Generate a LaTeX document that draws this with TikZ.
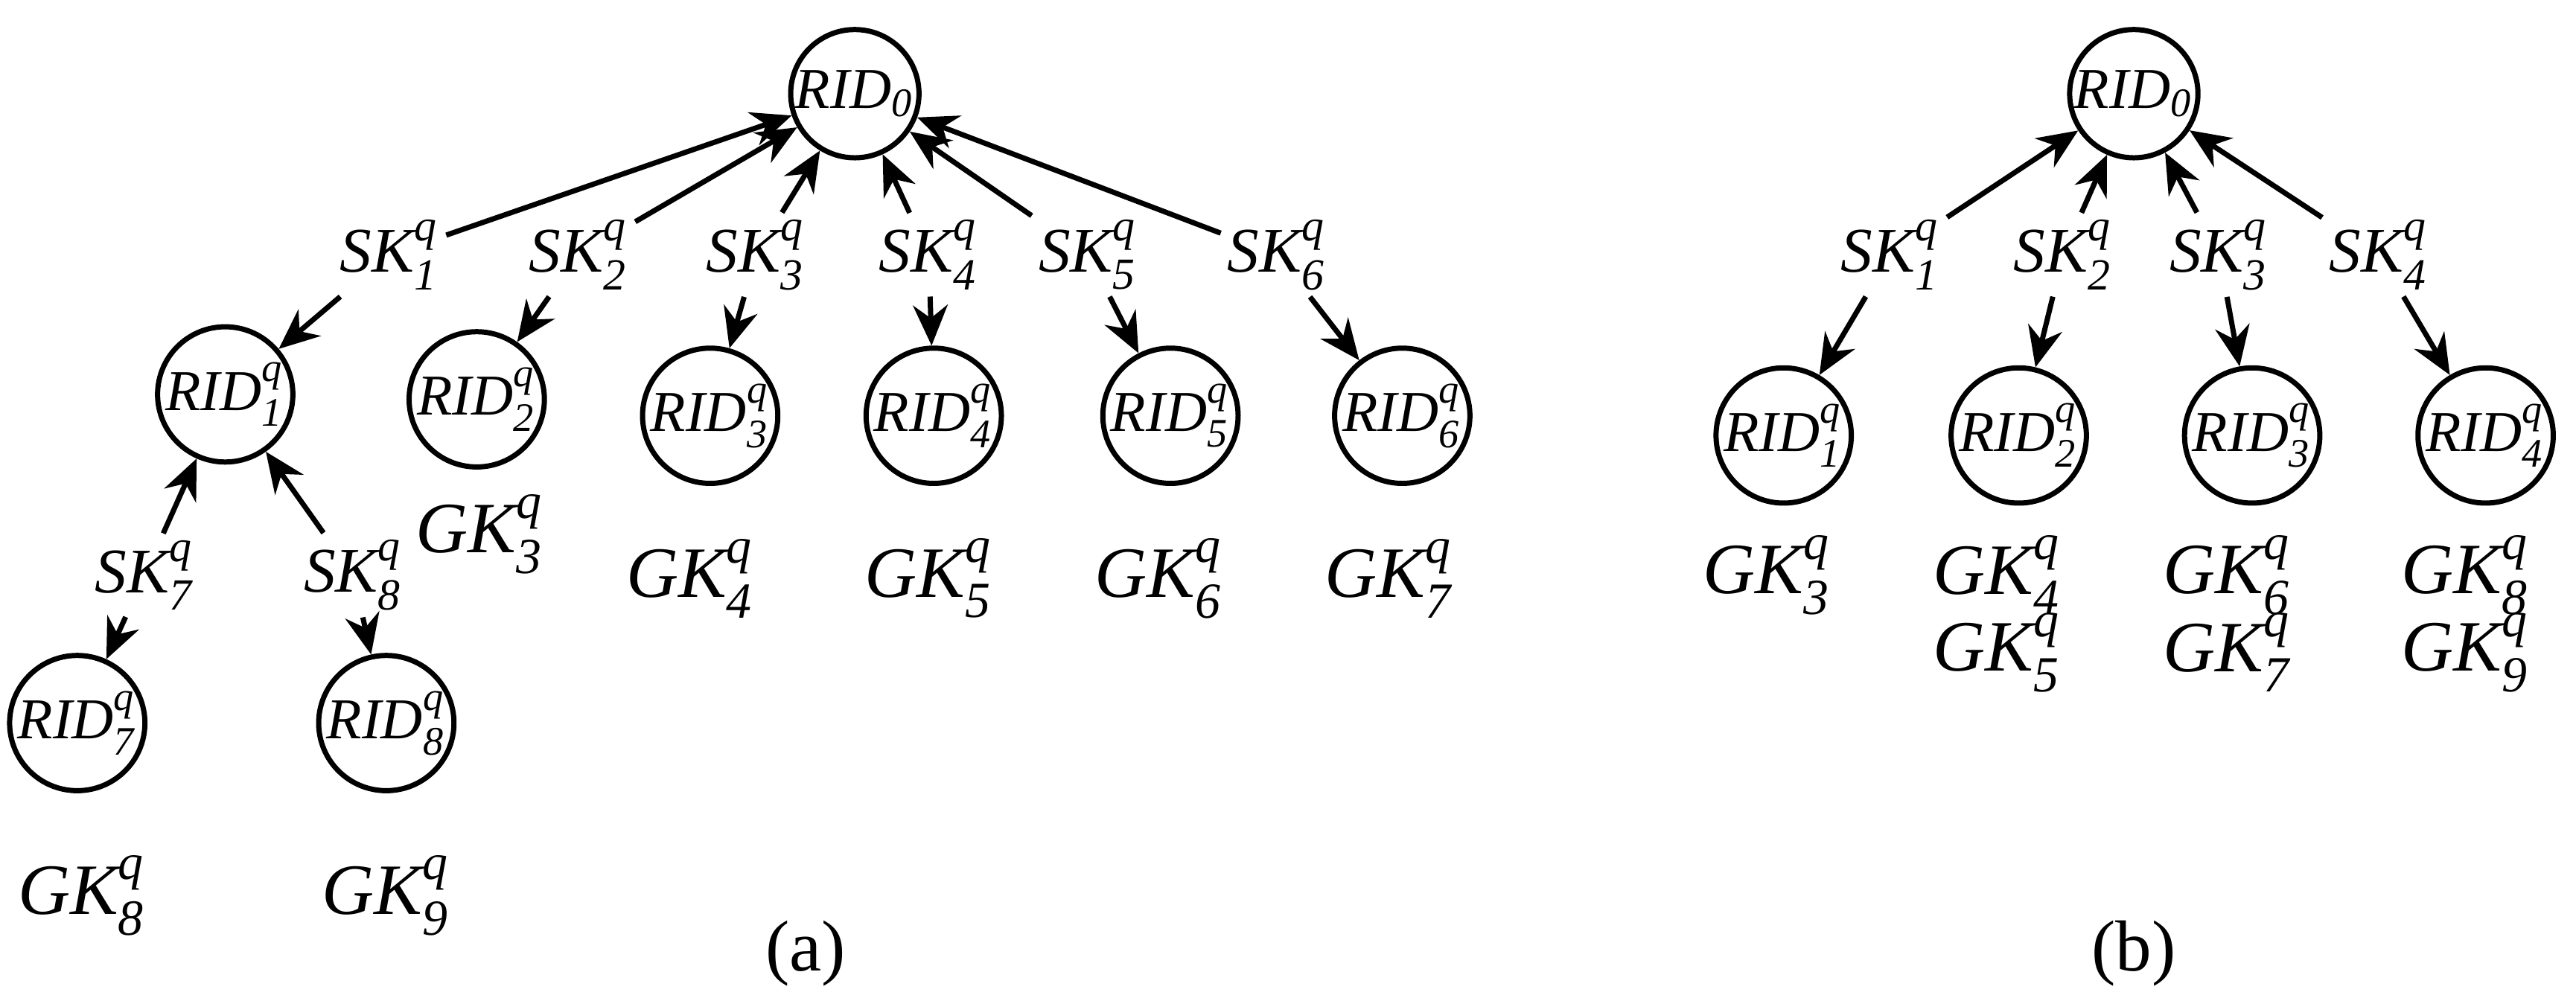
\documentclass[tikz,border=0pt]{standalone}
\usepackage{amsmath}
\usepackage{fontspec}
\setmainfont{Liberation Serif}
\usetikzlibrary{arrows.meta}
\begin{document}
\begin{tikzpicture}[x=0.01cm,y=-0.01cm,
  rid/.style={circle,draw,line width=0.9pt,minimum size=0.78cm,inner sep=0pt,font=\fontsize{10}{12}\selectfont},
  sk/.style={inner sep=1pt,font=\fontsize{11}{12}\selectfont},
  gk/.style={inner sep=0pt,font=\fontsize{12.5}{14}\selectfont},
  ar/.style={-{Stealth[length=7pt,width=6pt]},line width=0.9pt}]
\useasboundingbox (0,0) rectangle (1567,609);
\newcommand{\Rq}[1]{$\textit{RID}^{\textit{q}}_{\textit{#1}}$}
\newcommand{\Sq}[1]{$\textit{SK}^{\textit{q}}_{\textit{#1}}$}
\newcommand{\Gq}[1]{$\textit{GK}^{\textit{q}}_{\textit{#1}}$}
% (a)
\node[rid] (r0) at (520,57) {$\textit{RID}_{\textit{0}}$};
\node[rid] (a1) at (137,240) {\Rq1};
\node[rid] (a2) at (290,243) {\Rq2};
\node[rid] (a3) at (432,253) {\Rq3};
\node[rid] (a4) at (568,253) {\Rq4};
\node[rid] (a5) at (712,253) {\Rq5};
\node[rid] (a6) at (853,253) {\Rq6};
\node[rid] (a7) at (47,440) {\Rq7};
\node[rid] (a8) at (235,440) {\Rq8};
\node[sk] (s1) at (237,155) {\Sq1};
\node[sk] (s2) at (352,155) {\Sq2};
\node[sk] (s3) at (460,155) {\Sq3};
\node[sk] (s4) at (565,155) {\Sq4};
\node[sk] (s5) at (662,155) {\Sq5};
\node[sk] (s6) at (777,155) {\Sq6};
\node[sk] (s7) at (88,350) {\Sq7};
\node[sk] (s8) at (215,350) {\Sq8};
\foreach \s/\c in {s1/a1,s2/a2,s3/a3,s4/a4,s5/a5,s6/a6}{
  \draw[ar] (\s) -- (r0); \draw[ar] (\s) -- (\c);}
\foreach \s/\c in {s7/a7,s8/a8}{
  \draw[ar] (\s) -- (a1); \draw[ar] (\s) -- (\c);}
\node[gk] (g3) at (292,325) {\Gq3};
\node[gk] (g4) at (420,352) {\Gq4};
\node[gk] (g5) at (565,352) {\Gq5};
\node[gk] (g6) at (705,352) {\Gq6};
\node[gk] (g7) at (845,352) {\Gq7};
\node[gk] (g8) at (50,545) {\Gq8};
\node[gk] (g9) at (235,545) {\Gq9};
\node[font=\fontsize{12.5}{14}\selectfont] (la) at (490,580) {(a)};
% (b)
\node[rid] (b0) at (1298,57) {$\textit{RID}_{\textit{0}}$};
\node[rid] (b1) at (1085,265) {\Rq1};
\node[rid] (b2) at (1228,265) {\Rq2};
\node[rid] (b3) at (1370,265) {\Rq3};
\node[rid] (b4) at (1512,265) {\Rq4};
\node[sk] (t1) at (1150,155) {\Sq1};
\node[sk] (t2) at (1255,155) {\Sq2};
\node[sk] (t3) at (1350,155) {\Sq3};
\node[sk] (t4) at (1447,155) {\Sq4};
\foreach \s/\c in {t1/b1,t2/b2,t3/b3,t4/b4}{
  \draw[ar] (\s) -- (b0); \draw[ar] (\s) -- (\c);}
\node[gk] (h3) at (1075,350) {\Gq3};
\node[gk] (h4) at (1215,350) {\Gq4};
\node[gk] (h5) at (1215,397) {\Gq5};
\node[gk] (h6) at (1355,350) {\Gq6};
\node[gk] (h7) at (1355,397) {\Gq7};
\node[gk] (h8) at (1500,350) {\Gq8};
\node[gk] (h9) at (1500,397) {\Gq9};
\node[font=\fontsize{12.5}{14}\selectfont] (lb) at (1298,580) {(b)};
\end{tikzpicture}
\end{document}
